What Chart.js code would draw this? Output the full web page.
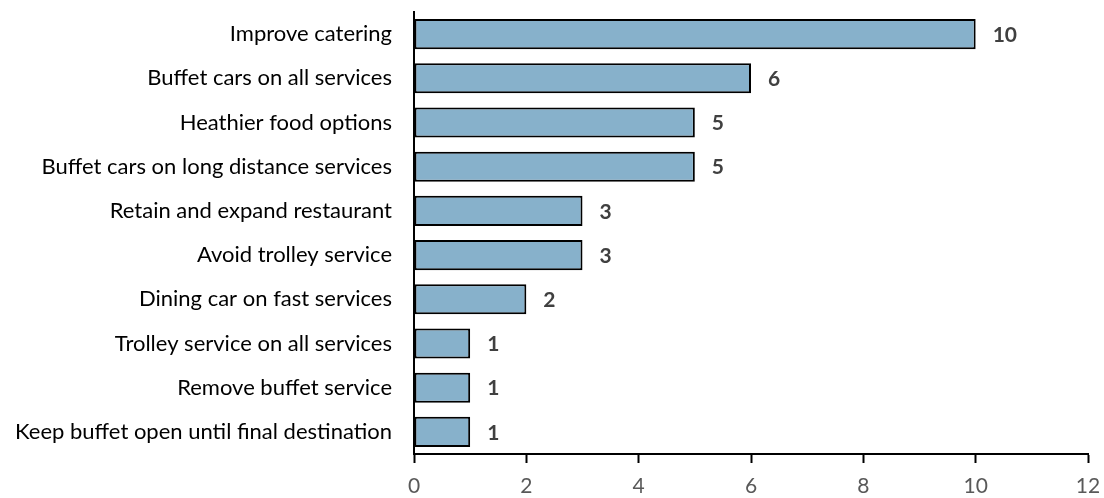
<!DOCTYPE html>
<html>
<head>
<meta charset="utf-8">
<script src="https://cdn.jsdelivr.net/npm/chart.js@4.4.1/dist/chart.umd.min.js"></script>
<style>
  html, body { margin: 0; padding: 0; background: #fff; }
  #wrap { width: 1104px; height: 498px; }
</style>
</head>
<body>
<div id="wrap"><canvas id="chart1"></canvas></div>
<script>
const categories = [
    'Improve catering',
    'Buffet cars on all services',
    'Heathier food options',
    'Buffet cars on long distance services',
    'Retain and expand restaurant',
    'Avoid trolley service',
    'Dining car on fast services',
    'Trolley service on all services',
    'Remove buffet service',
    'Keep buffet open until final destination'
];
const counts = [10, 6, 5, 5, 3, 3, 2, 1, 1, 1];
const xTicks = [0, 2, 4, 6, 8, 10, 12];

Chart.defaults.font.family = 'Lato, "Open Sans", sans-serif';

// value labels at the end of each bar
const valueLabels = {
    id: 'valueLabels',
    afterDatasetsDraw(chart) {
        const ctx = chart.ctx;
        const meta = chart.getDatasetMeta(0);
        ctx.save();
        ctx.font = 'bold 21px Lato, "Open Sans", sans-serif';
        ctx.fillStyle = '#404040';
        ctx.textAlign = 'left';
        ctx.textBaseline = 'middle';
        meta.data.forEach((bar, i) => {
            ctx.fillText(counts[i], bar.x + 17, bar.y + 1);
        });
        ctx.restore();
    }
};

// keep the plot box where the reference has it
const noScalePad = (scale) => {
    scale.paddingTop = 0;
    scale.paddingBottom = 0;
    scale.paddingLeft = 0;
    scale.paddingRight = 0;
};

const chart1 = new Chart(document.querySelector('#chart1'), {
    type: 'bar',
    data: {
        labels: categories,
        datasets: [{
            label: '',
            data: counts,
            backgroundColor: '#87B1CB',
            borderColor: '#000',
            borderWidth: 2,
            borderSkipped: false,
            categoryPercentage: 1.0,
            barPercentage: 0.68,
        }]
    },
    options: {
        indexAxis: 'y',
        responsive: true,
        maintainAspectRatio: false,
        animation: false,
        layout: {
            padding: { top: 12, right: 16, left: 0, bottom: 0 }
        },
        scales: {
            x: {
                min: 0,
                max: 12,
                afterBuildTicks: (scale) => {
                    scale.ticks = xTicks.map(v => ({ value: v }));
                },
                afterFit: (scale) => { scale.height = 44; noScalePad(scale); },
                grid: {
                    drawOnChartArea: false,
                    drawTicks: true,
                    tickLength: 9,
                    tickColor: '#000',
                    tickWidth: 2,
                },
                border: { display: true, color: '#000', width: 2 },
                ticks: {
                    color: '#595959',
                    padding: 11,
                    font: { size: 21 },
                }
            },
            y: {
                afterFit: (scale) => { scale.width = 414; noScalePad(scale); },
                grid: { display: false, drawTicks: false },
                border: { display: true, color: '#000', width: 2 },
                ticks: {
                    color: '#000',
                    padding: 22,
                    autoSkip: false,
                    font: { size: 22 },
                }
            }
        },
        plugins: {
            legend: { display: false },
            tooltip: { enabled: false },
        }
    },
    plugins: [valueLabels],
});
</script>
</body>
</html>
